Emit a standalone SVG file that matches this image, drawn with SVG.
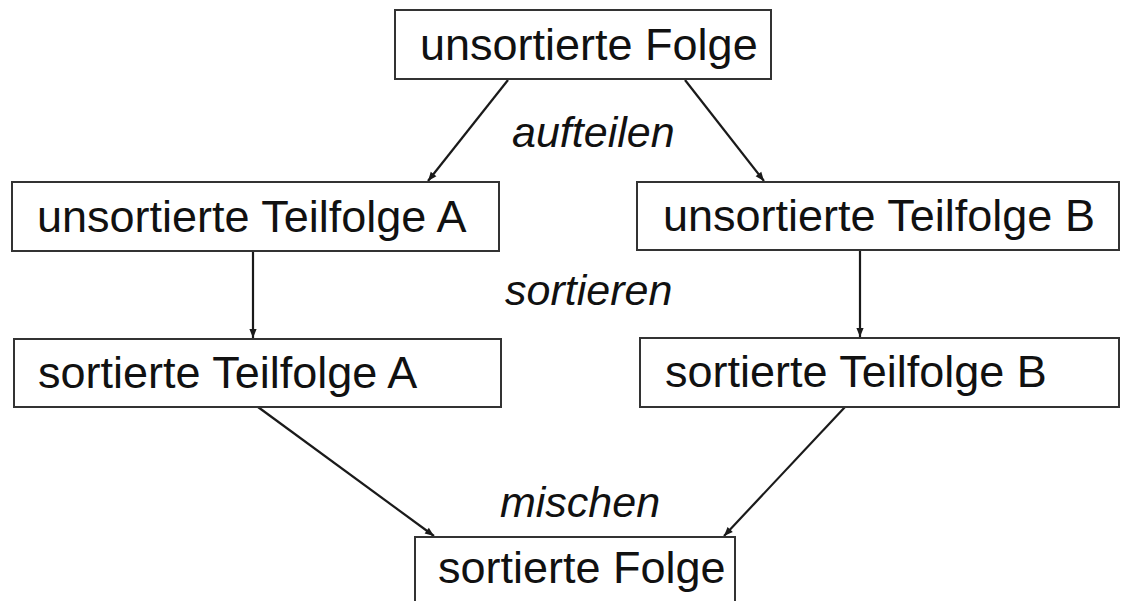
<svg xmlns="http://www.w3.org/2000/svg" width="1121" height="601" viewBox="0 0 1121 601">
<style>
.box{fill:#fff;stroke:#333;stroke-width:2}
.t{font-family:"Liberation Sans",Arial,sans-serif;font-size:45px;fill:#111}
.i{font-family:"Liberation Sans",Arial,sans-serif;font-size:43px;font-style:italic;fill:#111}
.c{stroke:#1a1a1a;stroke-width:2.2;fill:none;marker-end:url(#ah)}
</style>
<defs>
<marker id="ah" viewBox="0 0 10 10" refX="10" refY="5" markerWidth="10" markerHeight="9" orient="auto" markerUnits="userSpaceOnUse">
<path d="M0,1 L10,5 L0,9 Z" fill="#1a1a1a"/>
</marker>
</defs>
<rect width="1121" height="601" fill="#fff"/>
<g id="connectors">
<line class="c" x1="508" y1="80" x2="428" y2="181"/>
<line class="c" x1="685" y1="80" x2="764" y2="181"/>
<line class="c" x1="253" y1="251" x2="253" y2="338"/>
<line class="c" x1="860" y1="250" x2="860" y2="337"/>
<line class="c" x1="258" y1="407" x2="434" y2="536"/>
<line class="c" x1="845" y1="407" x2="724" y2="536"/>
</g>
<g id="labels">
<text class="i" x="512" y="147">aufteilen</text>
<text class="i" x="505" y="305">sortieren</text>
<text class="i" x="500" y="517">mischen</text>
</g>
<g id="n-unsorted">
<rect class="box" x="395" y="10" width="376" height="69"/>
<text class="t" x="420" y="60">unsortierte Folge</text>
</g>
<g id="n-unsortedA">
<rect class="box" x="12" y="182" width="487" height="69"/>
<text class="t" x="37" y="232">unsortierte Teilfolge A</text>
</g>
<g id="n-unsortedB">
<rect class="box" x="637" y="182" width="482" height="68"/>
<text class="t" x="663" y="231">unsortierte Teilfolge B</text>
</g>
<g id="n-sortedA">
<rect class="box" x="14" y="339" width="487" height="68"/>
<text class="t" x="38" y="388">sortierte Teilfolge A</text>
</g>
<g id="n-sortedB">
<rect class="box" x="640" y="338" width="479" height="69"/>
<text class="t" x="665" y="387">sortierte Teilfolge B</text>
</g>
<g id="n-sorted">
<rect class="box" x="415" y="537" width="320" height="80"/>
<text class="t" x="438" y="583">sortierte Folge</text>
</g>
</svg>
